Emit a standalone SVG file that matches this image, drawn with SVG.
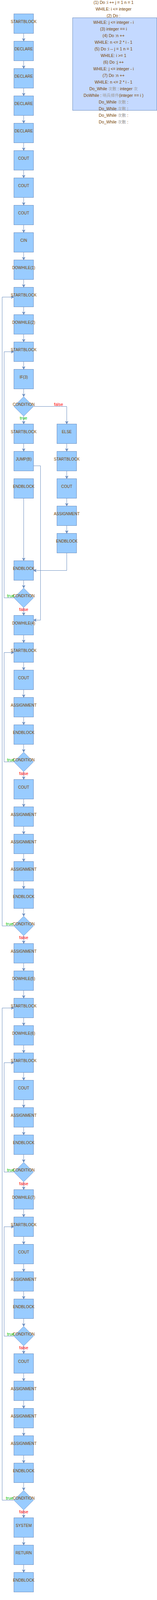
<svg xmlns="http://www.w3.org/2000/svg" width="401" height="4097" viewBox="0 0 401 4097">
<style>
.b{fill:#99ccff;stroke:#6c8ebf;stroke-width:1}
.d{fill:#99ccff;stroke:#7b9bd0;stroke-width:1}
.t{font-family:"Liberation Sans",Arial,sans-serif;font-size:10px;fill:#774400;text-anchor:middle}
.p{font-family:"Liberation Sans",Arial,"Noto Sans CJK TC",sans-serif;font-size:10.5px;fill:#774400;text-anchor:middle}
.g{fill:#a0a0a0}
.c{fill:none;stroke:#6c8ebf;stroke-width:1;marker-end:url(#a)}
.tr{font-family:"Liberation Sans",Arial,sans-serif;font-size:11px;fill:#00c000}
.fa{font-family:"Liberation Sans",Arial,sans-serif;font-size:11px;fill:#ff0000;text-anchor:middle}
</style>
<defs>
<marker id="a" markerUnits="userSpaceOnUse" markerWidth="10" markerHeight="10" viewBox="-8 -5 10 10" refX="0" refY="0" orient="auto">
<path d="M0,0 L-7,-3.5 L-5,0 L-7,3.5 Z" fill="#6c8ebf" stroke="#6c8ebf" stroke-width="1"/>
</marker>
</defs>
<rect width="401" height="4097" fill="#ffffff"/>
<g id="note">
<rect x="185.5" y="45.5" width="215" height="237" fill="#c4d9ff" stroke="#6c8ebf"/>
<text class="p" x="290" y="9.5">(1) Do :i ++ j = 1 n = 1</text>
<text class="p" x="290" y="26.5">WHILE: i &lt;= integer</text>
<text class="p" x="290" y="43.5">(2) Do :</text>
<text class="p" x="290" y="60.5">WHILE: j &lt;= integer - i</text>
<text class="p" x="290" y="77.5">(3) integer == i</text>
<text class="p" x="290" y="94.5">(4) Do :n ++</text>
<text class="p" x="290" y="111.5">WHILE: n &lt;= 2 * i - 1</text>
<text class="p" x="290" y="128.5">(5) Do :i -- j = 1 n = 1</text>
<text class="p" x="290" y="145.5">WHILE: i &gt;= 1</text>
<text class="p" x="290" y="162.5">(6) Do :j ++</text>
<text class="p" x="290" y="179.5">WHILE: j &lt;= integer - i</text>
<text class="p" x="290" y="196.5">(7) Do :n ++</text>
<text class="p" x="290" y="213.5">WHILE: n &lt;= 2 * i - 1</text>
<text class="p" x="290" y="230.5">Do_While <tspan class="g">次數</tspan> : integer <tspan class="g">次</tspan></text>
<text class="p" x="290" y="247.5">DoWhile : <tspan class="g">哨兵條件</tspan>(integer == i )</text>
<text class="p" x="290" y="264.5">Do_While <tspan class="g">次數</tspan> :</text>
<text class="p" x="290" y="281.5">Do_While <tspan class="g">次數</tspan> :</text>
<text class="p" x="290" y="298.5">Do_While <tspan class="g">次數</tspan> :</text>
<text class="p" x="290" y="315.5">Do_While <tspan class="g">次數</tspan> :</text>
</g>
<g id="connectors">
<path class="c" d="M60.5 85.5V105.5"/>
<path class="c" d="M60.5 155.5V175.5"/>
<path class="c" d="M60.5 225.5V245.5"/>
<path class="c" d="M60.5 295.5V315.5"/>
<path class="c" d="M60.5 365.5V385.5"/>
<path class="c" d="M60.5 435.5V455.5"/>
<path class="c" d="M60.5 505.5V525.5"/>
<path class="c" d="M60.5 575.5V595.5"/>
<path class="c" d="M60.5 645.5V665.5"/>
<path class="c" d="M60.5 715.5V735.5"/>
<path class="c" d="M60.5 785.5V805.5"/>
<path class="c" d="M60.5 855.5V875.5"/>
<path class="c" d="M60.5 925.5V945.5"/>
<path class="c" d="M60.5 995.5V1015.5"/>
<path class="c" d="M60.5 1065.5V1085.5"/>
<path class="c" d="M60.5 1135.5V1155.5"/>
<path class="c" d="M60.5 1275.5V1435.5"/>
<path class="c" d="M60.5 1485.5V1505.5"/>
<path class="c" d="M60.5 1555.5V1575.5"/>
<path class="c" d="M60.5 1625.5V1645.5"/>
<path class="c" d="M60.5 1695.5V1715.5"/>
<path class="c" d="M60.5 1765.5V1785.5"/>
<path class="c" d="M60.5 1835.5V1855.5"/>
<path class="c" d="M60.5 1905.5V1925.5"/>
<path class="c" d="M60.5 1975.5V1995.5"/>
<path class="c" d="M60.5 2045.5V2065.5"/>
<path class="c" d="M60.5 2115.5V2135.5"/>
<path class="c" d="M60.5 2185.5V2205.5"/>
<path class="c" d="M60.5 2255.5V2275.5"/>
<path class="c" d="M60.5 2325.5V2345.5"/>
<path class="c" d="M60.5 2395.5V2415.5"/>
<path class="c" d="M60.5 2465.5V2485.5"/>
<path class="c" d="M60.5 2535.5V2555.5"/>
<path class="c" d="M60.5 2605.5V2625.5"/>
<path class="c" d="M60.5 2675.5V2695.5"/>
<path class="c" d="M60.5 2745.5V2765.5"/>
<path class="c" d="M60.5 2815.5V2835.5"/>
<path class="c" d="M60.5 2885.5V2905.5"/>
<path class="c" d="M60.5 2955.5V2975.5"/>
<path class="c" d="M60.5 3025.5V3045.5"/>
<path class="c" d="M60.5 3095.5V3115.5"/>
<path class="c" d="M60.5 3165.5V3185.5"/>
<path class="c" d="M60.5 3235.5V3255.5"/>
<path class="c" d="M60.5 3305.5V3325.5"/>
<path class="c" d="M60.5 3375.5V3395.5"/>
<path class="c" d="M60.5 3445.5V3465.5"/>
<path class="c" d="M60.5 3515.5V3535.5"/>
<path class="c" d="M60.5 3585.5V3605.5"/>
<path class="c" d="M60.5 3655.5V3675.5"/>
<path class="c" d="M60.5 3725.5V3745.5"/>
<path class="c" d="M60.5 3795.5V3815.5"/>
<path class="c" d="M60.5 3865.5V3885.5"/>
<path class="c" d="M60.5 3935.5V3955.5"/>
<path class="c" d="M60.5 4005.5V4025.5"/>
<path class="c" d="M85.5 1040.5H170.5V1085.5"/>
<path class="c" d="M170.5 1135.5V1155.5"/>
<path class="c" d="M170.5 1205.5V1225.5"/>
<path class="c" d="M170.5 1275.5V1295.5"/>
<path class="c" d="M170.5 1345.5V1365.5"/>
<path class="c" d="M170.5 1415.5V1460.5H85.5"/>
<path class="c" d="M85.5 1192.5H103.5V1587.5H85.5"/>
<path class="c" d="M35.5 2370.5H5.5V760.5H35.5"/>
<path class="c" d="M35.5 1530.5H10.5V900.5H35.5"/>
<path class="c" d="M35.5 1950.5H10.5V1670.5H35.5"/>
<path class="c" d="M35.5 3840.5H5.5V2580.5H35.5"/>
<path class="c" d="M35.5 3000.5H10.5V2720.5H35.5"/>
<path class="c" d="M35.5 3420.5H10.5V3140.5H35.5"/>
</g>
<g id="n1"><rect class="b" x="35.5" y="35.5" width="50" height="50"/><text class="t" x="60.5" y="59">STARTBLOCK</text></g>
<g id="n2"><rect class="b" x="35.5" y="105.5" width="50" height="50"/><text class="t" x="60.5" y="129">DECLARE</text></g>
<g id="n3"><rect class="b" x="35.5" y="175.5" width="50" height="50"/><text class="t" x="60.5" y="199">DECLARE</text></g>
<g id="n4"><rect class="b" x="35.5" y="245.5" width="50" height="50"/><text class="t" x="60.5" y="269">DECLARE</text></g>
<g id="n5"><rect class="b" x="35.5" y="315.5" width="50" height="50"/><text class="t" x="60.5" y="339">DECLARE</text></g>
<g id="n6"><rect class="b" x="35.5" y="385.5" width="50" height="50"/><text class="t" x="60.5" y="409">COUT</text></g>
<g id="n7"><rect class="b" x="35.5" y="455.5" width="50" height="50"/><text class="t" x="60.5" y="479">COUT</text></g>
<g id="n8"><rect class="b" x="35.5" y="525.5" width="50" height="50"/><text class="t" x="60.5" y="549">COUT</text></g>
<g id="n9"><rect class="b" x="35.5" y="595.5" width="50" height="50"/><text class="t" x="60.5" y="619">CIN</text></g>
<g id="n10"><rect class="b" x="35.5" y="665.5" width="50" height="50"/><text class="t" x="60.5" y="689">DOWHILE(1)</text></g>
<g id="n11"><rect class="b" x="35.5" y="735.5" width="50" height="50"/><text class="t" x="60.5" y="759">STARTBLOCK</text></g>
<g id="n12"><rect class="b" x="35.5" y="805.5" width="50" height="50"/><text class="t" x="60.5" y="829">DOWHILE(2)</text></g>
<g id="n13"><rect class="b" x="35.5" y="875.5" width="50" height="50"/><text class="t" x="60.5" y="899">STARTBLOCK</text></g>
<g id="n14"><rect class="b" x="35.5" y="945.5" width="50" height="50"/><text class="t" x="60.5" y="969">IF(3)</text></g>
<g id="n15"><path class="d" d="M60.5 1015.5L85.5 1040.5L60.5 1065.5L35.5 1040.5Z"/><text class="t" x="60.5" y="1039">CONDITION</text></g>
<g id="n16"><rect class="b" x="35.5" y="1085.5" width="50" height="50"/><text class="t" x="60.5" y="1109">STARTBLOCK</text></g>
<g id="n17"><rect class="b" x="35.5" y="1155.5" width="50" height="50"/><text class="t" x="60.5" y="1179">JUMP(B)</text></g>
<g id="n18"><rect class="b" x="35.5" y="1225.5" width="50" height="50"/><text class="t" x="60.5" y="1249">ENDBLOCK</text></g>
<g id="e1"><rect class="b" x="145.5" y="1085.5" width="50" height="50"/><text class="t" x="170.5" y="1109">ELSE</text></g>
<g id="e2"><rect class="b" x="145.5" y="1155.5" width="50" height="50"/><text class="t" x="170.5" y="1179">STARTBLOCK</text></g>
<g id="e3"><rect class="b" x="145.5" y="1225.5" width="50" height="50"/><text class="t" x="170.5" y="1249">COUT</text></g>
<g id="e4"><rect class="b" x="145.5" y="1295.5" width="50" height="50"/><text class="t" x="170.5" y="1319">ASSIGNMENT</text></g>
<g id="e5"><rect class="b" x="145.5" y="1365.5" width="50" height="50"/><text class="t" x="170.5" y="1389">ENDBLOCK</text></g>
<g id="n19"><rect class="b" x="35.5" y="1435.5" width="50" height="50"/><text class="t" x="60.5" y="1459">ENDBLOCK</text></g>
<g id="n20"><path class="d" d="M60.5 1505.5L85.5 1530.5L60.5 1555.5L35.5 1530.5Z"/><text class="t" x="60.5" y="1529">CONDITION</text></g>
<g id="n21"><rect class="b" x="35.5" y="1575.5" width="50" height="50"/><text class="t" x="60.5" y="1599">DOWHILE(4)</text></g>
<g id="n22"><rect class="b" x="35.5" y="1645.5" width="50" height="50"/><text class="t" x="60.5" y="1669">STARTBLOCK</text></g>
<g id="n23"><rect class="b" x="35.5" y="1715.5" width="50" height="50"/><text class="t" x="60.5" y="1739">COUT</text></g>
<g id="n24"><rect class="b" x="35.5" y="1785.5" width="50" height="50"/><text class="t" x="60.5" y="1809">ASSIGNMENT</text></g>
<g id="n25"><rect class="b" x="35.5" y="1855.5" width="50" height="50"/><text class="t" x="60.5" y="1879">ENDBLOCK</text></g>
<g id="n26"><path class="d" d="M60.5 1925.5L85.5 1950.5L60.5 1975.5L35.5 1950.5Z"/><text class="t" x="60.5" y="1949">CONDITION</text></g>
<g id="n27"><rect class="b" x="35.5" y="1995.5" width="50" height="50"/><text class="t" x="60.5" y="2019">COUT</text></g>
<g id="n28"><rect class="b" x="35.5" y="2065.5" width="50" height="50"/><text class="t" x="60.5" y="2089">ASSIGNMENT</text></g>
<g id="n29"><rect class="b" x="35.5" y="2135.5" width="50" height="50"/><text class="t" x="60.5" y="2159">ASSIGNMENT</text></g>
<g id="n30"><rect class="b" x="35.5" y="2205.5" width="50" height="50"/><text class="t" x="60.5" y="2229">ASSIGNMENT</text></g>
<g id="n31"><rect class="b" x="35.5" y="2275.5" width="50" height="50"/><text class="t" x="60.5" y="2299">ENDBLOCK</text></g>
<g id="n32"><path class="d" d="M60.5 2345.5L85.5 2370.5L60.5 2395.5L35.5 2370.5Z"/><text class="t" x="60.5" y="2369">CONDITION</text></g>
<g id="n33"><rect class="b" x="35.5" y="2415.5" width="50" height="50"/><text class="t" x="60.5" y="2439">ASSIGNMENT</text></g>
<g id="n34"><rect class="b" x="35.5" y="2485.5" width="50" height="50"/><text class="t" x="60.5" y="2509">DOWHILE(5)</text></g>
<g id="n35"><rect class="b" x="35.5" y="2555.5" width="50" height="50"/><text class="t" x="60.5" y="2579">STARTBLOCK</text></g>
<g id="n36"><rect class="b" x="35.5" y="2625.5" width="50" height="50"/><text class="t" x="60.5" y="2649">DOWHILE(6)</text></g>
<g id="n37"><rect class="b" x="35.5" y="2695.5" width="50" height="50"/><text class="t" x="60.5" y="2719">STARTBLOCK</text></g>
<g id="n38"><rect class="b" x="35.5" y="2765.5" width="50" height="50"/><text class="t" x="60.5" y="2789">COUT</text></g>
<g id="n39"><rect class="b" x="35.5" y="2835.5" width="50" height="50"/><text class="t" x="60.5" y="2859">ASSIGNMENT</text></g>
<g id="n40"><rect class="b" x="35.5" y="2905.5" width="50" height="50"/><text class="t" x="60.5" y="2929">ENDBLOCK</text></g>
<g id="n41"><path class="d" d="M60.5 2975.5L85.5 3000.5L60.5 3025.5L35.5 3000.5Z"/><text class="t" x="60.5" y="2999">CONDITION</text></g>
<g id="n42"><rect class="b" x="35.5" y="3045.5" width="50" height="50"/><text class="t" x="60.5" y="3069">DOWHILE(7)</text></g>
<g id="n43"><rect class="b" x="35.5" y="3115.5" width="50" height="50"/><text class="t" x="60.5" y="3139">STARTBLOCK</text></g>
<g id="n44"><rect class="b" x="35.5" y="3185.5" width="50" height="50"/><text class="t" x="60.5" y="3209">COUT</text></g>
<g id="n45"><rect class="b" x="35.5" y="3255.5" width="50" height="50"/><text class="t" x="60.5" y="3279">ASSIGNMENT</text></g>
<g id="n46"><rect class="b" x="35.5" y="3325.5" width="50" height="50"/><text class="t" x="60.5" y="3349">ENDBLOCK</text></g>
<g id="n47"><path class="d" d="M60.5 3395.5L85.5 3420.5L60.5 3445.5L35.5 3420.5Z"/><text class="t" x="60.5" y="3419">CONDITION</text></g>
<g id="n48"><rect class="b" x="35.5" y="3465.5" width="50" height="50"/><text class="t" x="60.5" y="3489">COUT</text></g>
<g id="n49"><rect class="b" x="35.5" y="3535.5" width="50" height="50"/><text class="t" x="60.5" y="3559">ASSIGNMENT</text></g>
<g id="n50"><rect class="b" x="35.5" y="3605.5" width="50" height="50"/><text class="t" x="60.5" y="3629">ASSIGNMENT</text></g>
<g id="n51"><rect class="b" x="35.5" y="3675.5" width="50" height="50"/><text class="t" x="60.5" y="3699">ASSIGNMENT</text></g>
<g id="n52"><rect class="b" x="35.5" y="3745.5" width="50" height="50"/><text class="t" x="60.5" y="3769">ENDBLOCK</text></g>
<g id="n53"><path class="d" d="M60.5 3815.5L85.5 3840.5L60.5 3865.5L35.5 3840.5Z"/><text class="t" x="60.5" y="3839">CONDITION</text></g>
<g id="n54"><rect class="b" x="35.5" y="3885.5" width="50" height="50"/><text class="t" x="60.5" y="3909">SYSTEM</text></g>
<g id="n55"><rect class="b" x="35.5" y="3955.5" width="50" height="50"/><text class="t" x="60.5" y="3979">RETURN</text></g>
<g id="n56"><rect class="b" x="35.5" y="4025.5" width="50" height="50"/><text class="t" x="60.5" y="4049">ENDBLOCK</text></g>
<g id="edge-labels">
<text class="fa" x="149.5" y="1039">false</text>
<text class="tr" x="60" y="1074" text-anchor="middle">true</text>
<text class="tr" x="18" y="1529">true</text>
<text class="fa" x="60.5" y="1564">false</text>
<text class="tr" x="18" y="1949">true</text>
<text class="fa" x="60.5" y="1984">false</text>
<text class="tr" x="15" y="2369">true</text>
<text class="fa" x="60.5" y="2404">false</text>
<text class="tr" x="18" y="2999">true</text>
<text class="fa" x="60.5" y="3034">false</text>
<text class="tr" x="18" y="3419">true</text>
<text class="fa" x="60.5" y="3454">false</text>
<text class="tr" x="15" y="3839">true</text>
<text class="fa" x="60.5" y="3874">false</text>
</g>
</svg>
